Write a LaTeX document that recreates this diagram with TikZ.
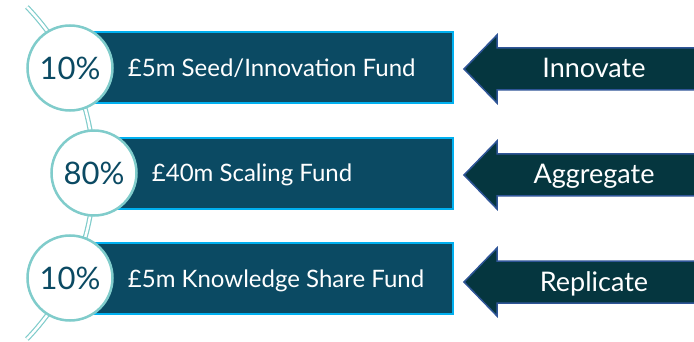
\documentclass[tikz,border=0pt]{standalone}
\usepackage{fontspec}
\setmainfont{Lato}
\usetikzlibrary{positioning}
\definecolor{fundblue}{HTML}{0B4A63}
\definecolor{fundedge}{HTML}{00B0F0}
\definecolor{ringteal}{HTML}{80CCCB}
\definecolor{arrowfill}{HTML}{05363F}
\definecolor{arrowedge}{HTML}{2F5597}

\begin{document}
\begin{tikzpicture}[
                      x = 1pt, y = 1pt,
         fund/.style = {draw=fundedge, fill=fundblue, line width=2pt,
                        minimum height=71pt, anchor=west, inner sep=0pt},
        share/.style = {circle, draw=ringteal, fill=white, line width=2.5pt,
                        minimum size=85pt, inner sep=0pt, text=fundblue,
                        font=\fontsize{31}{31}\selectfont},
     fundtext/.style = {text=white, inner sep=0pt, text height=18pt, text depth=0pt,
                        font=\fontsize{24}{24}\selectfont},
        stage/.style = {draw=arrowedge, fill=arrowfill, line width=1.5pt, line join=miter},
    stagetext/.style = {text=white, anchor=base, font=\fontsize{27}{27}\selectfont},
        chain/.style = {draw=ringteal, double=white, double distance=2.5pt, line width=1.2pt},
                     ]
\clip (0,0) rectangle (694,-342);

% chain behind the circles
\coordinate (chaintop) at (26.9,-7);
\draw[chain] (chaintop) arc[start angle=44, end angle=-44, radius=239pt];

% fund boxes
\node[fund, minimum width=382pt] (box1) at (70,-68) {};
\node[fund, minimum width=358pt] (box2) at (94,-174) {};
\node[fund, minimum width=382pt] (box3) at (70,-278) {};

% share circles
\node[share] (c1) at (70,-68) {10\%};
\node[share] (c2) at (94,-173) {80\%};
\node[share] (c3) at (70,-278) {10\%};

\node[fundtext, right=14pt of c1] (fund1) {£5m Seed/Innovation Fund};
\node[fundtext, right=14pt of c2] (fund2) {£40m Scaling Fund};
\node[fundtext, right=14pt of c3] (fund3) {£5m Knowledge Share Fund};

% stage arrows
\foreach \yy/\word/\nm in {69/Innovate/innovate, 175/Aggregate/aggregate, 282/Replicate/replicate}{
    \coordinate (\nm tip) at (464,-\yy);
    \draw[stage] (\nm tip) -- ++(33,34) -- ++(0,-13) -- ++(210,0) -- ++(0,-42)
                 -- ++(-210,0) -- ++(0,-13) -- cycle;
    \node[stagetext] (\nm) at (594,-\yy-9) {\word};
}
\end{tikzpicture}
\end{document}
